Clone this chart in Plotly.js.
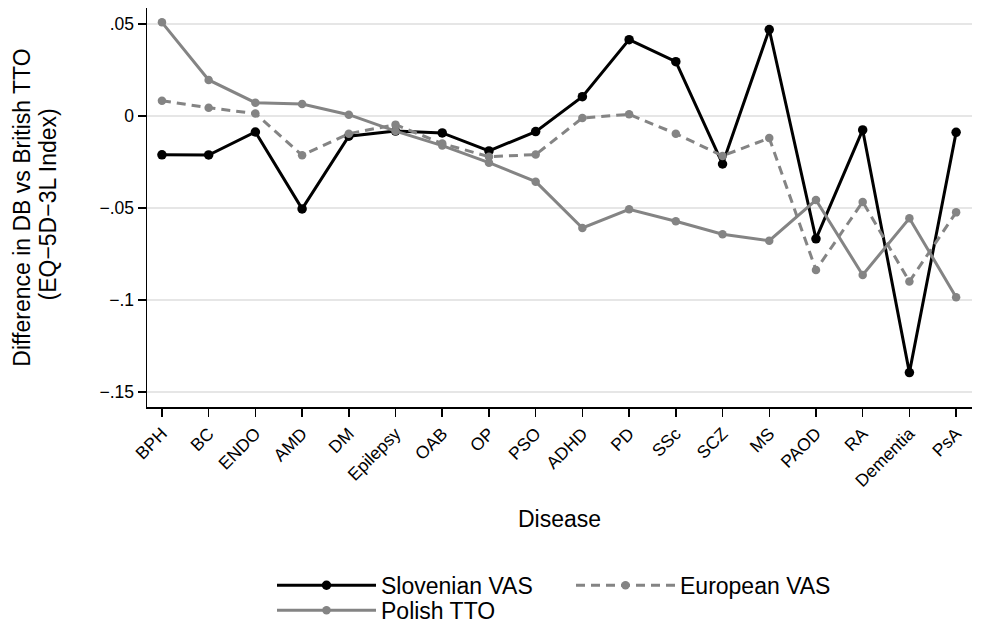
<!DOCTYPE html>
<html>
<head>
<meta charset="utf-8">
<script src="https://cdn.plot.ly/plotly-3.0.1.min.js"></script>
<style>html,body{margin:0;padding:0;background:#fff;}#chart{width:986px;height:623px;}</style>
</head>
<body>
<div id="chart"></div>
<script>
var diseases = ["BPH","BC","ENDO","AMD","DM","Epilepsy","OAB","OP","PSO","ADHD","PD","SSc","SCZ","MS","PAOD","RA","Dementia","PsA"];
var slovenianVAS = [-0.0211,-0.0212,-0.0087,-0.0505,-0.0110,-0.0082,-0.0092,-0.0190,-0.0085,0.0105,0.0415,0.0295,-0.0261,0.0470,-0.0668,-0.0076,-0.1395,-0.0089];
var europeanVAS = [0.0083,0.0045,0.0013,-0.0214,-0.0096,-0.0047,-0.0150,-0.0221,-0.0210,-0.0011,0.0009,-0.0096,-0.0217,-0.0120,-0.0837,-0.0467,-0.0900,-0.0524];
var polishTTO = [0.0509,0.0196,0.0072,0.0065,0.0007,-0.0082,-0.0161,-0.0254,-0.0357,-0.0609,-0.0507,-0.0572,-0.0643,-0.0678,-0.0457,-0.0864,-0.0556,-0.0985];
var yTickVals = [0.05,0,-0.05,-0.1,-0.15];
var yTickText = [".05","0","\u2212.05","\u2212.1","\u2212.15"];
var yTitleLine1 = "Difference in DB vs British TTO";
var yTitleLine2 = "(EQ\u22125D\u22123L Index)";

var FONT = "Liberation Sans, Arial, Helvetica, sans-serif";
var GRAY = "#848484";
var TITLE_SIZE = 23;
var TICK_SIZE = 17.5;

var traces = [
  {x: diseases, y: slovenianVAS, name: "Slovenian VAS", type: "scatter", mode: "lines+markers",
   line: {color: "#000000", width: 3}, marker: {color: "#000000", size: 9.5}, legend: "legend"},
  {x: diseases, y: polishTTO, name: "Polish TTO", type: "scatter", mode: "lines+markers",
   line: {color: GRAY, width: 3}, marker: {color: GRAY, size: 8.5}, legend: "legend2"},
  {x: diseases, y: europeanVAS, name: "European VAS", type: "scatter", mode: "lines+markers",
   line: {color: GRAY, width: 3, dash: "9px,6px"}, marker: {color: GRAY, size: 8.5}, legend: "legend"}
];

var legendCommon = {
  orientation: "h", xref: "container", yref: "container", xanchor: "left", yanchor: "top",
  font: {family: FONT, size: TITLE_SIZE, color: "#000"},
  itemwidth: 99, entrywidth: 185, bgcolor: "rgba(0,0,0,0)", traceorder: "normal"
};

var layout = {
  width: 986, height: 623,
  margin: {l: 147, r: 14, t: 8, b: 216, autoexpand: false},
  paper_bgcolor: "#ffffff", plot_bgcolor: "#ffffff",
  font: {family: FONT, color: "#000000", size: TICK_SIZE},
  showlegend: true,
  legend: Object.assign({}, legendCommon, {x: 272/986, y: 0.095}),
  legend2: Object.assign({}, legendCommon, {x: 272/986, y: 0.055}),
  xaxis: {
    type: "category",
    range: [-0.32, 17.34],
    showline: true, linecolor: "#000", linewidth: 1.5,
    ticks: "outside", ticklen: 8, tickwidth: 1.5, tickcolor: "#000",
    tickangle: -45,
    tickfont: {family: FONT, size: TICK_SIZE, color: "#000"},
    showgrid: false, zeroline: false,
    title: {text: "Disease", font: {family: FONT, size: TITLE_SIZE, color: "#000"}, standoff: 21},
    automargin: false
  },
  yaxis: {
    range: [-0.1582, 0.0587],
    tickvals: yTickVals, ticktext: yTickText,
    showline: true, linecolor: "#000", linewidth: 1.5,
    ticks: "outside", ticklen: 8, tickwidth: 1.5, tickcolor: "#000",
    tickfont: {family: FONT, size: TICK_SIZE, color: "#000"},
    showgrid: true, gridcolor: "#e6e6e6", gridwidth: 1.5,
    zeroline: false,
    title: {text: yTitleLine1, font: {family: FONT, size: TITLE_SIZE, color: "#000"}, standoff: 62},
    automargin: false
  },
  annotations: [
    {text: yTitleLine2, textangle: -90, xref: "paper", yref: "paper", x: 0, y: 0.5,
     xanchor: "center", yanchor: "middle", xshift: -100, yshift: 3, showarrow: false,
     font: {family: FONT, size: TITLE_SIZE, color: "#000"}}
  ]
};

Plotly.newPlot("chart", traces, layout, {displayModeBar: false, staticPlot: true});
</script>
</body>
</html>
